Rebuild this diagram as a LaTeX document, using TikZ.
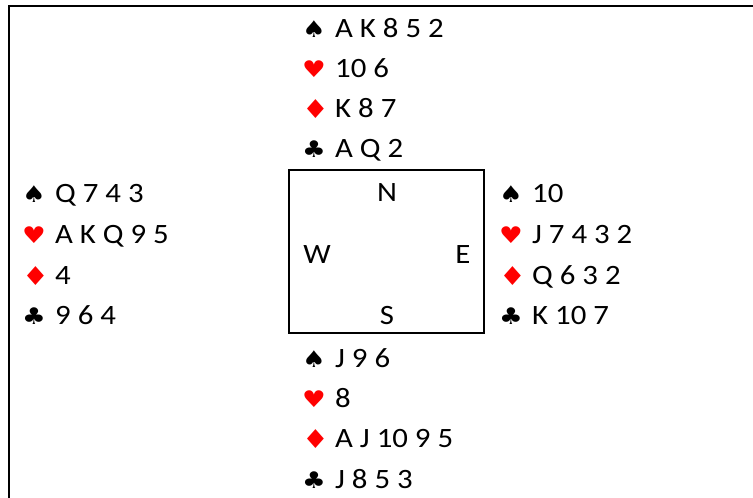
\documentclass[tikz,border=0pt]{standalone}
\usepackage{fontspec}
\setmainfont{Carlito}[FakeStretch=1.1]
\newfontfamily\suitfont{DejaVu Sans}[FakeStretch=1.15]
\definecolor{suitred}{RGB}{255,0,0}
\newcommand\cardsz{\fontsize{28}{34}\selectfont}
\newcommand\suitsz{\fontsize{23}{27}\selectfont}
\newcommand\diasz{\fontsize{26}{31}\selectfont}
\tikzset{
  cards/.style={anchor=base west, inner sep=0pt, font=\cardsz},
  suitblack/.style={anchor=base west, inner sep=0pt, font=\suitfont\suitsz, text=black},
  suitred/.style={anchor=base west, inner sep=0pt, font=\suitfont\suitsz, text=suitred},
  suitdia/.style={anchor=base west, inner sep=0pt, font=\suitfont\diasz, text=suitred},
  compass/.style={anchor=base, inner sep=0pt, font=\cardsz},
  frame/.style={line width=2pt},
  table/.style={line width=1.5pt}
}
\begin{document}
\begin{tikzpicture}[x=1pt,y=-1pt]
\useasboundingbox (0,0) rectangle (753,498);
% outer frame (top and left sides)
\coordinate (ftr) at (753,6);
\coordinate (ftl) at (9,6);
\coordinate (fbl) at (9,498);
\draw[frame] (ftr) -- (ftl) -- (fbl);
% table
\coordinate (tnw) at (289,170);
\coordinate (tse) at (484,333);
\draw[table] (tnw) rectangle (tse);
\node[compass] (cn) at (387,201) {N};
\node[compass] (cw) at (317,263) {W};
\node[compass] (ce) at (463,263) {E};
\node[compass] (cs) at (387,324) {S};
% North
\node[suitblack] (ns) at (302,37) {♠};
\node[cards] (nst) at (335,37) {A K 8 5 2};
\node[suitred] (nh) at (302,77.5) {♥};
\node[cards] (nht) at (335,77.5) {10 6};
\node[suitdia] (nd) at (302,118) {♦};
\node[cards] (ndt) at (335,117) {K 8 7};
\node[suitblack] (nc) at (302,157) {♣};
\node[cards] (nct) at (335,157) {A Q 2};
% West
\node[suitblack] (ws) at (22,202.5) {♠};
\node[cards] (wst) at (55,202.5) {Q 7 4 3};
\node[suitred] (wh) at (22,243) {♥};
\node[cards] (wht) at (55,243) {A K Q 9 5};
\node[suitdia] (wd) at (22,285) {♦};
\node[cards] (wdt) at (55,284) {4};
\node[suitblack] (wc) at (22,324.5) {♣};
\node[cards] (wct) at (55,324.5) {9 6 4};
% East
\node[suitblack] (es) at (499,202.5) {♠};
\node[cards] (est) at (532,202.5) {10};
\node[suitred] (eh) at (499,243) {♥};
\node[cards] (eht) at (532,243) {J 7 4 3 2};
\node[suitdia] (ed) at (499,285) {♦};
\node[cards] (edt) at (532,284) {Q 6 3 2};
\node[suitblack] (ec) at (499,324.5) {♣};
\node[cards] (ect) at (532,324.5) {K 10 7};
% South
\node[suitblack] (ss) at (302,367) {♠};
\node[cards] (sst) at (335,367) {J 9 6};
\node[suitred] (sh) at (302,407) {♥};
\node[cards] (sht) at (335,407) {8};
\node[suitdia] (sd) at (302,448.5) {♦};
\node[cards] (sdt) at (335,447.5) {A J 10 9 5};
\node[suitblack] (sc) at (302,488) {♣};
\node[cards] (sct) at (335,488) {J 8 5 3};
\end{tikzpicture}
\end{document}
